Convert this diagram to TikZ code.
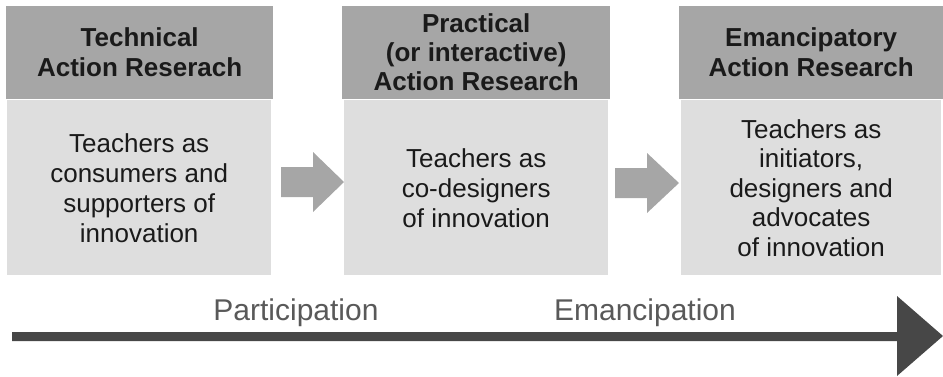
\documentclass[tikz,border=0pt]{standalone}
\usepackage{fontspec}
\setmainfont{Liberation Sans}
\definecolor{hdrgray}{HTML}{A6A6A6}
\definecolor{bodygray}{HTML}{DEDEDE}
\definecolor{arrgray}{HTML}{A6A6A6}
\definecolor{darkarr}{HTML}{474747}
\definecolor{lblgray}{HTML}{595959}
\definecolor{txt}{HTML}{1A1A1A}
\tikzset{
  hdr/.style={fill=hdrgray, inner sep=0pt, anchor=north west, align=center,
    text=txt, font=\fontsize{26}{30}\selectfont\bfseries},
  bodybox/.style={fill=bodygray, inner sep=0pt, anchor=north west, align=center,
    text=txt, font=\fontsize{26}{30}\selectfont},
  blockarr/.style={fill=arrgray},
  axisarr/.style={fill=darkarr},
  axislbl/.style={anchor=base, text=lblgray, font=\fontsize{30}{34}\selectfont, inner sep=0pt}
}
\begin{document}
\begin{tikzpicture}[x=1pt,y=-1pt]
\useasboundingbox (0,0) rectangle (943,376);
% headers
\node[hdr, minimum width=267, minimum height=93] (h1) at (6,6) {Technical\\Action Reserach};
\node[hdr, minimum width=268, minimum height=93, font=\fontsize{26}{29}\selectfont\bfseries] (h2) at (342,6) {Practical\\(or interactive)\\Action Research};
\node[hdr, minimum width=264, minimum height=93] (h3) at (679,6) {Emancipatory\\Action Research};
% bodies
\node[bodybox, minimum width=264, minimum height=175] (b1) at (7,100) {Teachers as\\consumers and\\supporters of\\innovation};
\node[bodybox, minimum width=264, minimum height=175] (b2) at (344,100) {Teachers as\\co-designers\\of innovation};
\node[bodybox, minimum width=260, minimum height=175, font=\fontsize{26}{29.5}\selectfont] (b3) at (681,100) {Teachers as\\initiators,\\designers and\\advocates\\of innovation};
% block arrows between boxes
\coordinate (a1) at (281,182);
\coordinate (a2) at (615,183);
\fill[blockarr] (a1) ++(0,-15) -- ++(32,0) -- ++(0,-15) -- ++(31,30) -- ++(-31,30) -- ++(0,-15) -- ++(-32,0) -- cycle;
\fill[blockarr] (a2) ++(0,-15) -- ++(32,0) -- ++(0,-15) -- ++(32,30) -- ++(-32,30) -- ++(0,-15) -- ++(-32,0) -- cycle;
% bottom axis arrow
\coordinate (axs) at (12,336.5);
\coordinate (axt) at (943,336);
\fill[axisarr] (12,332) -- (897,332) -- (897,296) -- (axt) -- (897,376) -- (897,341) -- (12,341) -- cycle;
\node[axislbl] (lp) at (296,320) {Participation};
\node[axislbl] (le) at (645,320) {Emancipation};
\end{tikzpicture}
\end{document}
